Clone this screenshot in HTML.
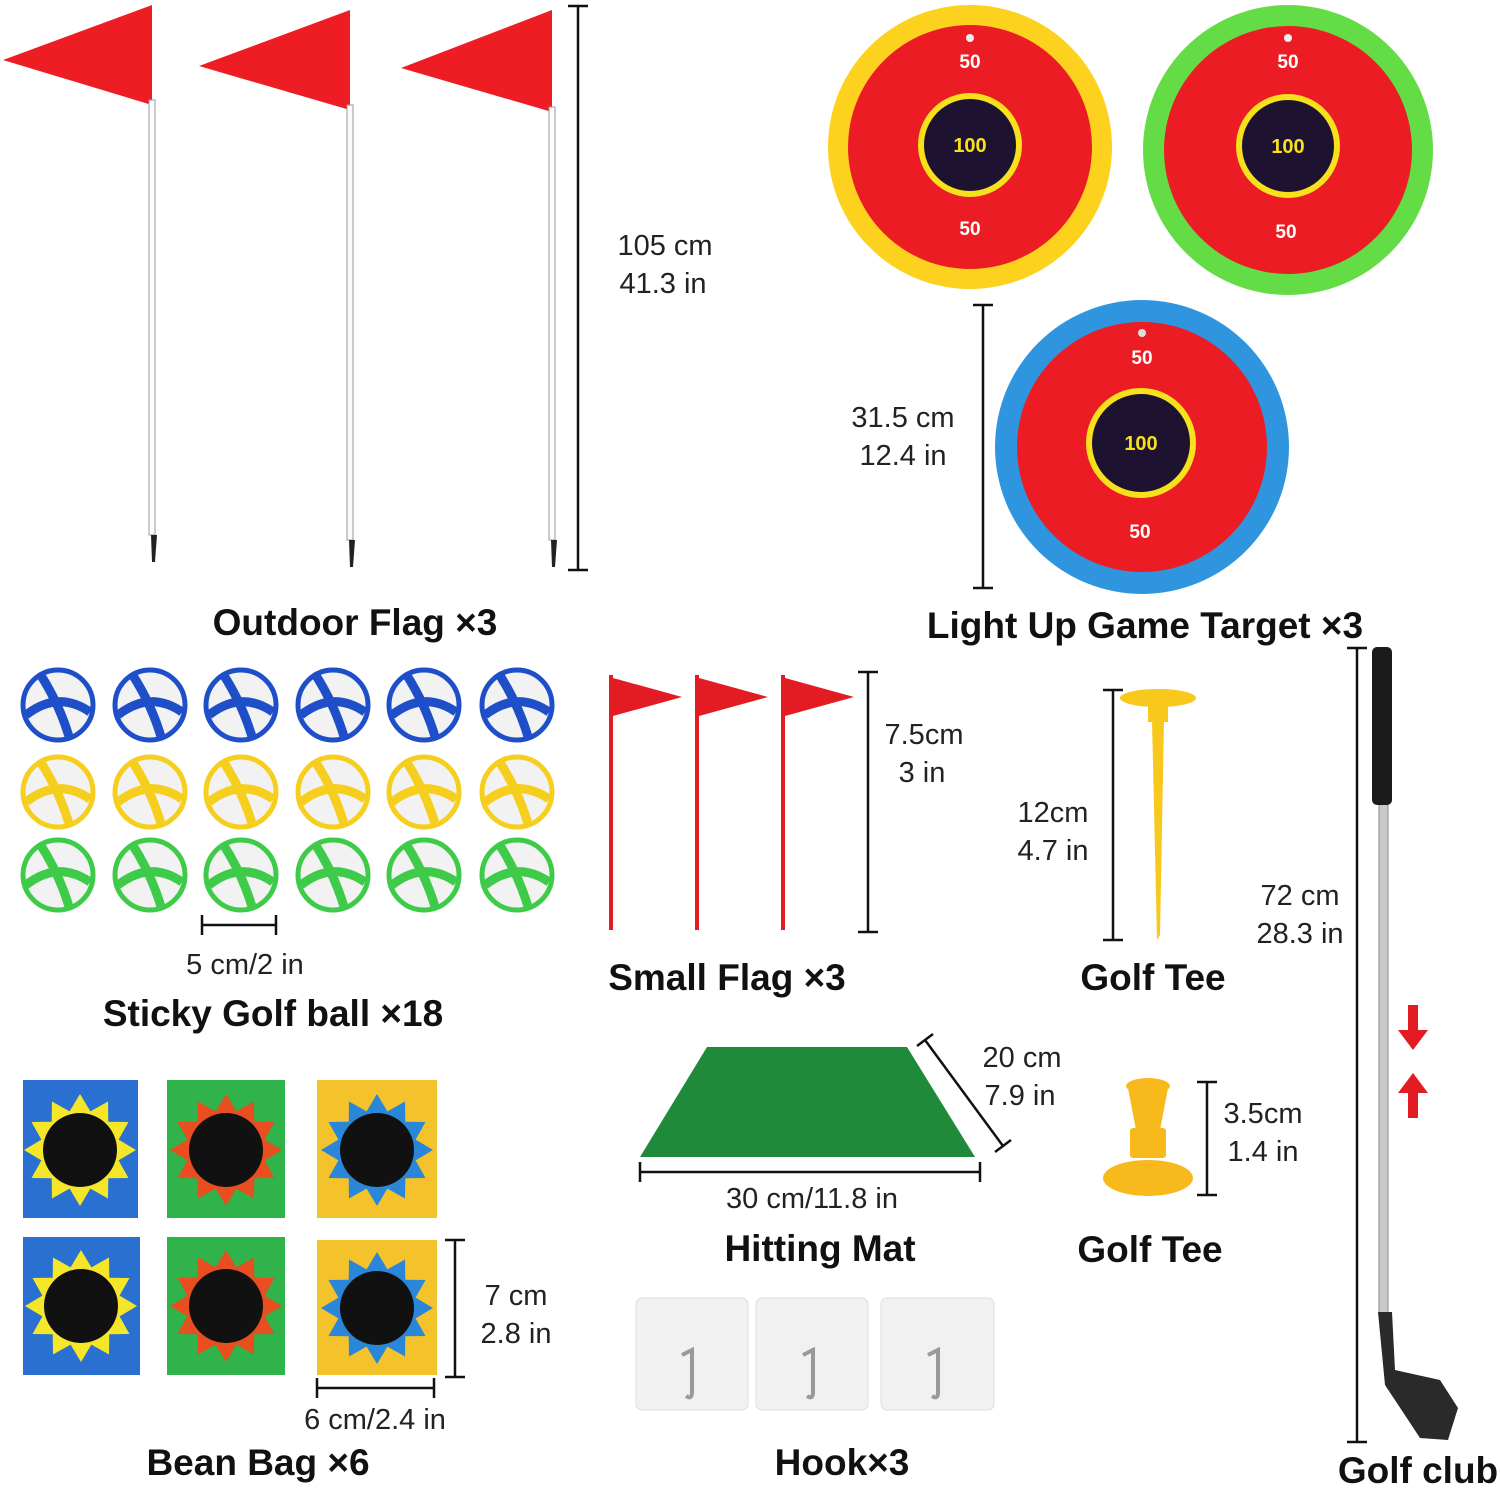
<!DOCTYPE html>
<html><head><meta charset="utf-8"><style>
html,body{margin:0;padding:0;background:#fff;}
svg{display:block;}
.t{font-family:"Liberation Sans",sans-serif;font-size:29px;fill:#222;text-anchor:middle;}
.b{font-family:"Liberation Sans",sans-serif;font-size:37px;font-weight:bold;fill:#111;text-anchor:middle;}
.n{font-family:"Liberation Sans",sans-serif;font-weight:bold;text-anchor:middle;}
</style></head><body>
<svg width="1500" height="1488" viewBox="0 0 1500 1488" xmlns="http://www.w3.org/2000/svg">
<rect width="1500" height="1488" fill="#fff"/>
<defs>
<polygon id="star" points="56,0 38.6,10.4 48.5,28 28.3,28.3 28,48.5 10.4,38.6 0,56 -10.4,38.6 -28,48.5 -28.3,28.3 -48.5,28 -38.6,10.4 -56,0 -38.6,-10.4 -48.5,-28 -28.3,-28.3 -28,-48.5 -10.4,-38.6 0,-56 10.4,-38.6 28,-48.5 28.3,-28.3 48.5,-28 38.6,-10.4"/>
</defs>
<!-- Outdoor flags -->
<g>
<polygon points="3,60 152,5 152,105" fill="#ee1d24"/>
<rect x="149" y="100" width="6" height="435" fill="#fbfbfb" stroke="#999" stroke-width="1"/>
<polygon points="151,535 157,535 155,562 152,562" fill="#222"/>
<polygon points="199,66 350,10 350,110" fill="#ee1d24"/>
<rect x="347" y="105" width="6" height="435" fill="#fbfbfb" stroke="#999" stroke-width="1"/>
<polygon points="349,540 355,540 353,567 350,567" fill="#222"/>
<polygon points="401,68 552,10 552,112" fill="#ee1d24"/>
<rect x="549" y="107" width="6" height="433" fill="#fbfbfb" stroke="#999" stroke-width="1"/>
<polygon points="551,540 557,540 555,567 552,567" fill="#222"/>
</g>
<g stroke="#111" stroke-width="2.5">
<line x1="578" y1="6" x2="578" y2="570"/><line x1="568" y1="6" x2="588" y2="6"/><line x1="568" y1="570" x2="588" y2="570"/>
</g>
<text class="t" x="665" y="255">105 cm</text><text class="t" x="663" y="293">41.3 in</text>
<text class="b" x="355" y="635">Outdoor Flag ×3</text>

<!-- Targets -->
<g>
<circle cx="970" cy="147" r="142" fill="#fcd21e"/><circle cx="970" cy="147" r="122" fill="#ec1c24"/>
<circle cx="970" cy="145" r="52" fill="#f7e01c"/><circle cx="970" cy="145" r="46" fill="#1d1330"/>
<text class="n" x="970" y="152" font-size="20" fill="#f7e01c">100</text>
<text class="n" x="970" y="68" font-size="19" fill="#fff">50</text><text class="n" x="970" y="235" font-size="19" fill="#fff">50</text>
<circle cx="970" cy="38" r="4" fill="#eee"/>
<circle cx="1288" cy="150" r="145" fill="#63dc45"/><circle cx="1288" cy="150" r="124" fill="#ec1c24"/>
<circle cx="1288" cy="146" r="52" fill="#f7e01c"/><circle cx="1288" cy="146" r="46" fill="#1d1330"/>
<text class="n" x="1288" y="153" font-size="20" fill="#f7e01c">100</text>
<text class="n" x="1288" y="68" font-size="19" fill="#fff">50</text><text class="n" x="1286" y="238" font-size="19" fill="#fff">50</text>
<circle cx="1288" cy="38" r="4" fill="#eee"/>
<circle cx="1142" cy="447" r="147" fill="#2f95df"/><circle cx="1142" cy="447" r="125" fill="#ec1c24"/>
<circle cx="1141" cy="443" r="55" fill="#f7e01c"/><circle cx="1141" cy="443" r="49" fill="#1d1330"/>
<text class="n" x="1141" y="450" font-size="20" fill="#f7e01c">100</text>
<text class="n" x="1142" y="364" font-size="19" fill="#fff">50</text><text class="n" x="1140" y="538" font-size="19" fill="#fff">50</text>
<circle cx="1142" cy="333" r="4" fill="#ddd"/>
</g>
<g stroke="#111" stroke-width="2.5">
<line x1="983" y1="305" x2="983" y2="588"/><line x1="973" y1="305" x2="993" y2="305"/><line x1="973" y1="588" x2="993" y2="588"/>
</g>
<text class="t" x="903" y="427">31.5 cm</text><text class="t" x="903" y="465">12.4 in</text>
<text class="b" x="1145" y="638">Light Up Game Target ×3</text>

<!-- Balls -->
<g>
<g fill="none" stroke-width="5">
<g stroke="#1f4fc8">
<circle cx="58" cy="705" r="35" fill="#f2f2f2"/><circle cx="150" cy="705" r="35" fill="#f2f2f2"/><circle cx="241" cy="705" r="35" fill="#f2f2f2"/><circle cx="333" cy="705" r="35" fill="#f2f2f2"/><circle cx="424" cy="705" r="35" fill="#f2f2f2"/><circle cx="517" cy="705" r="35" fill="#f2f2f2"/>
</g>
<g stroke="#f6cf1e">
<circle cx="58" cy="792" r="35" fill="#f2f2f2"/><circle cx="150" cy="792" r="35" fill="#f2f2f2"/><circle cx="241" cy="792" r="35" fill="#f2f2f2"/><circle cx="333" cy="792" r="35" fill="#f2f2f2"/><circle cx="424" cy="792" r="35" fill="#f2f2f2"/><circle cx="517" cy="792" r="35" fill="#f2f2f2"/>
</g>
<g stroke="#3fcb4a">
<circle cx="58" cy="875" r="35" fill="#f2f2f2"/><circle cx="150" cy="875" r="35" fill="#f2f2f2"/><circle cx="241" cy="875" r="35" fill="#f2f2f2"/><circle cx="333" cy="875" r="35" fill="#f2f2f2"/><circle cx="424" cy="875" r="35" fill="#f2f2f2"/><circle cx="517" cy="875" r="35" fill="#f2f2f2"/>
</g>
</g>
<g stroke-width="9" fill="none">
<path d="M26 715 Q58 690 90 712 M40 674 Q60 705 70 740 M118 715 Q150 690 182 712 M132 674 Q152 705 162 740 M209 715 Q241 690 273 712 M223 674 Q243 705 253 740 M301 715 Q333 690 365 712 M315 674 Q335 705 345 740 M392 715 Q424 690 456 712 M406 674 Q426 705 436 740 M485 715 Q517 690 549 712 M499 674 Q519 705 529 740" stroke="#1f4fc8"/>
<path d="M26 802 Q58 777 90 799 M40 761 Q60 792 70 827 M118 802 Q150 777 182 799 M132 761 Q152 792 162 827 M209 802 Q241 777 273 799 M223 761 Q243 792 253 827 M301 802 Q333 777 365 799 M315 761 Q335 792 345 827 M392 802 Q424 777 456 799 M406 761 Q426 792 436 827 M485 802 Q517 777 549 799 M499 761 Q519 792 529 827" stroke="#f6cf1e"/>
<path d="M26 885 Q58 860 90 882 M40 844 Q60 875 70 910 M118 885 Q150 860 182 882 M132 844 Q152 875 162 910 M209 885 Q241 860 273 882 M223 844 Q243 875 253 910 M301 885 Q333 860 365 882 M315 844 Q335 875 345 910 M392 885 Q424 860 456 882 M406 844 Q426 875 436 910 M485 885 Q517 860 549 882 M499 844 Q519 875 529 910" stroke="#3fcb4a"/>
</g>
</g>
<g stroke="#111" stroke-width="2.5">
<line x1="202" y1="925" x2="276" y2="925"/><line x1="202" y1="915" x2="202" y2="935"/><line x1="276" y1="915" x2="276" y2="935"/>
</g>
<text class="t" x="245" y="974">5 cm/2 in</text>
<text class="b" x="273" y="1026">Sticky Golf ball ×18</text>

<!-- Small flags -->
<g fill="#e31b23">
<rect x="609" y="675" width="4" height="255"/><polygon points="613,678 682,697 613,716"/>
<rect x="695" y="675" width="4" height="255"/><polygon points="699,678 768,697 699,716"/>
<rect x="781" y="675" width="4" height="255"/><polygon points="785,678 854,697 785,716"/>
</g>
<g stroke="#111" stroke-width="2.5">
<line x1="868" y1="672" x2="868" y2="932"/><line x1="858" y1="672" x2="878" y2="672"/><line x1="858" y1="932" x2="878" y2="932"/>
</g>
<text class="t" x="924" y="744">7.5cm</text><text class="t" x="922" y="782">3 in</text>
<text class="b" x="727" y="990">Small Flag ×3</text>

<!-- Golf tee tall -->
<g fill="#f8c81c">
<ellipse cx="1158" cy="698" rx="38" ry="9"/>
<rect x="1148" y="700" width="20" height="22"/>
<polygon points="1152,720 1164,720 1160,935 1157,940"/>
</g>
<g stroke="#111" stroke-width="2.5">
<line x1="1113" y1="690" x2="1113" y2="940"/><line x1="1103" y1="690" x2="1123" y2="690"/><line x1="1103" y1="940" x2="1123" y2="940"/>
</g>
<text class="t" x="1053" y="822">12cm</text><text class="t" x="1053" y="860">4.7 in</text>
<text class="b" x="1153" y="990">Golf Tee</text>

<!-- Golf club -->
<g stroke="#111" stroke-width="2.5">
<line x1="1357" y1="648" x2="1357" y2="1442"/><line x1="1347" y1="648" x2="1367" y2="648"/><line x1="1347" y1="1442" x2="1367" y2="1442"/>
</g>
<rect x="1379" y="800" width="9" height="515" fill="#c9c9c9" stroke="#888" stroke-width="1"/>
<rect x="1372" y="647" width="20" height="158" rx="5" fill="#1b1b1b"/>
<path d="M1378 1312 L1392 1312 L1395 1370 L1440 1380 L1458 1408 L1448 1440 L1420 1438 L1385 1385 Z" fill="#2a2a2a"/>
<text class="t" x="1300" y="905">72 cm</text><text class="t" x="1300" y="943">28.3 in</text>
<polygon points="1408,1005 1418,1005 1418,1030 1428,1030 1413,1050 1398,1030 1408,1030" fill="#e31b23"/>
<polygon points="1413,1073 1428,1093 1418,1093 1418,1118 1408,1118 1408,1093 1398,1093" fill="#e31b23"/>
<text class="b" x="1418" y="1483">Golf club</text>

<!-- Hitting mat -->
<polygon points="707,1047 907,1047 975,1157 640,1157" fill="#1e8a3a"/>
<g stroke="#111" stroke-width="2.5">
<line x1="640" y1="1172" x2="980" y2="1172"/><line x1="640" y1="1162" x2="640" y2="1182"/><line x1="980" y1="1162" x2="980" y2="1182"/>
<line x1="925" y1="1040" x2="1003" y2="1146"/><line x1="917" y1="1046" x2="933" y2="1034"/><line x1="995" y1="1152" x2="1011" y2="1140"/>
</g>
<text class="t" x="1022" y="1067">20 cm</text><text class="t" x="1020" y="1105">7.9 in</text>
<text class="t" x="812" y="1208">30 cm/11.8 in</text>
<text class="b" x="820" y="1261">Hitting Mat</text>

<!-- small tee -->
<g fill="#f8b91c">
<ellipse cx="1148" cy="1086" rx="22" ry="8"/>
<polygon points="1128,1088 1168,1088 1160,1130 1136,1130"/>
<rect x="1130" y="1128" width="36" height="30" rx="3"/>
<ellipse cx="1148" cy="1178" rx="45" ry="18"/>
</g>
<g stroke="#111" stroke-width="2.5">
<line x1="1207" y1="1082" x2="1207" y2="1195"/><line x1="1197" y1="1082" x2="1217" y2="1082"/><line x1="1197" y1="1195" x2="1217" y2="1195"/>
</g>
<text class="t" x="1263" y="1123">3.5cm</text><text class="t" x="1263" y="1161">1.4 in</text>
<text class="b" x="1150" y="1262">Golf Tee</text>

<!-- Bean bags -->
<g>
<rect x="23" y="1080" width="115" height="138" fill="#2a70d0"/><use href="#star" transform="translate(80,1150)" fill="#f5e629"/><circle cx="80" cy="1150" r="37" fill="#111"/>
<rect x="167" y="1080" width="118" height="138" fill="#2fb34a"/><use href="#star" transform="translate(226,1150)" fill="#e84e1f"/><circle cx="226" cy="1150" r="37" fill="#111"/>
<rect x="317" y="1080" width="120" height="138" fill="#f4c22a"/><use href="#star" transform="translate(377,1150)" fill="#2a86d8"/><circle cx="377" cy="1150" r="37" fill="#111"/>
<rect x="23" y="1237" width="117" height="138" fill="#2a70d0"/><use href="#star" transform="translate(81,1306)" fill="#f5e629"/><circle cx="81" cy="1306" r="37" fill="#111"/>
<rect x="167" y="1237" width="118" height="138" fill="#2fb34a"/><use href="#star" transform="translate(226,1306)" fill="#e84e1f"/><circle cx="226" cy="1306" r="37" fill="#111"/>
<rect x="317" y="1240" width="120" height="135" fill="#f4c22a"/><use href="#star" transform="translate(377,1308)" fill="#2a86d8"/><circle cx="377" cy="1308" r="37" fill="#111"/>
</g>
<g stroke="#111" stroke-width="2.5">
<line x1="455" y1="1240" x2="455" y2="1377"/><line x1="445" y1="1240" x2="465" y2="1240"/><line x1="445" y1="1377" x2="465" y2="1377"/>
<line x1="317" y1="1388" x2="434" y2="1388"/><line x1="317" y1="1378" x2="317" y2="1398"/><line x1="434" y1="1378" x2="434" y2="1398"/>
</g>
<text class="t" x="516" y="1305">7 cm</text><text class="t" x="516" y="1343">2.8 in</text>
<text class="t" x="375" y="1429">6 cm/2.4 in</text>
<text class="b" x="258" y="1475">Bean Bag ×6</text>

<!-- Hooks -->
<g fill="#f1f1f1" stroke="#ddd">
<rect x="636" y="1298" width="112" height="112" rx="6"/>
<rect x="756" y="1298" width="112" height="112" rx="6"/>
<rect x="881" y="1298" width="113" height="112" rx="6"/>
</g>
<g stroke="#999" stroke-width="4" fill="none">
<path d="M682 1355 L692 1350 L692 1392 Q692 1400 686 1396"/>
<path d="M803 1355 L813 1350 L813 1392 Q813 1400 807 1396"/>
<path d="M928 1355 L938 1350 L938 1392 Q938 1400 932 1396"/>
</g>
<text class="b" x="842" y="1475">Hook×3</text>
</svg>
</body></html>
